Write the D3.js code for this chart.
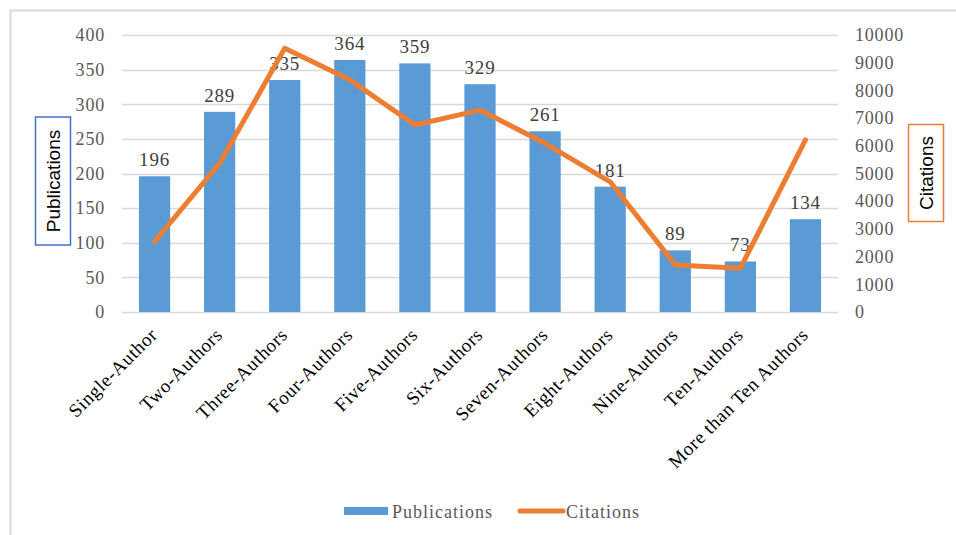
<!DOCTYPE html>
<html lang="en">
<head>
<meta charset="UTF-8">
<title>Publications and Citations</title>
<script src="https://cdnjs.cloudflare.com/ajax/libs/d3/7.8.5/d3.min.js"></script>
<style>
  body { margin: 0; background: #fff; }
</style>
</head>
<body>
<svg id="chart" width="956" height="535"></svg>
<script>
// data
var categories = ["Single-Author", "Two-Authors", "Three-Authors", "Four-Authors", "Five-Authors",
    "Six-Authors", "Seven-Authors", "Eight-Authors", "Nine-Authors", "Ten-Authors", "More than Ten Authors"];
var publications = [196, 289, 335, 364, 359, 329, 261, 181, 89, 73, 134];
var citations = [2540, 5370, 9520, 8380, 6750, 7290, 6090, 4700, 1700, 1580, 6210];
var leftTicks = [0, 50, 100, 150, 200, 250, 300, 350, 400];
var rightTicks = [0, 1000, 2000, 3000, 4000, 5000, 6000, 7000, 8000, 9000, 10000];

var svg = d3.select("#chart");
var plot = {left: 122, right: 838, top: 35, bottom: 312};
var serif = "'Liberation Serif', 'Times New Roman', serif";

// outer frame (only top and left edges fall inside the picture)
svg.append("rect")
    .attr("x", 10.5).attr("y", 10.5)
    .attr("width", 960).attr("height", 540)
    .attr("fill", "#fff")
    .attr("stroke", "#d9d9d9")
    .attr("stroke-width", 2);

var x = d3.scaleBand()
    .domain(categories)
    .range([plot.left, plot.right])
    .paddingInner(0.52)
    .paddingOuter(0.26);

var yLeft = d3.scaleLinear().domain([0, 400]).range([plot.bottom, plot.top]);
var yRight = d3.scaleLinear().domain([0, 10000]).range([plot.bottom, plot.top]);

// gridlines
svg.append("g")
    .selectAll("line")
    .data(leftTicks)
    .enter()
    .append("line")
    .attr("x1", plot.left).attr("x2", plot.right)
    .attr("y1", function(d) { return Math.round(yLeft(d)) + 0.5; })
    .attr("y2", function(d) { return Math.round(yLeft(d)) + 0.5; })
    .attr("stroke", "#d9d9d9")
    .attr("stroke-width", 1.3);

// left axis
var leftAxis = svg.append("g")
    .attr("transform", "translate(" + (plot.left - 17) + ",0)")
    .call(d3.axisLeft(yLeft).tickValues(leftTicks).tickSize(0).tickPadding(0));
leftAxis.select(".domain").remove();
leftAxis.selectAll("text")
    .attr("font-family", serif)
    .attr("font-size", 18)
    .attr("letter-spacing", 0.8)
    .attr("fill", "#595959");

// right axis
var rightAxis = svg.append("g")
    .attr("transform", "translate(" + (plot.right + 17) + ",0)")
    .call(d3.axisRight(yRight).tickValues(rightTicks).tickFormat(d3.format("d")).tickSize(0).tickPadding(0));
rightAxis.select(".domain").remove();
rightAxis.selectAll("text")
    .attr("font-family", serif)
    .attr("font-size", 18)
    .attr("letter-spacing", 0.8)
    .attr("fill", "#595959");

// bars
svg.append("g")
    .selectAll("rect")
    .data(publications)
    .enter()
    .append("rect")
    .attr("x", function(d, i) { return x(categories[i]); })
    .attr("y", function(d) { return yLeft(d); })
    .attr("width", x.bandwidth())
    .attr("height", function(d) { return yLeft(0) - yLeft(d); })
    .attr("fill", "#5b9bd5");

// bar labels
svg.append("g")
    .selectAll("text")
    .data(publications)
    .enter()
    .append("text")
    .attr("x", function(d, i) { return x(categories[i]) + x.bandwidth() / 2; })
    .attr("y", function(d) { return yLeft(d) - 10; })
    .attr("text-anchor", "middle")
    .attr("font-family", serif)
    .attr("font-size", 19)
    .attr("letter-spacing", 0.8)
    .attr("fill", "#404040")
    .text(function(d) { return d; });

// citations line
var line = d3.line()
    .x(function(d, i) { return x(categories[i]) + x.bandwidth() / 2; })
    .y(function(d) { return yRight(d); });

svg.append("path")
    .datum(citations)
    .attr("d", line)
    .attr("fill", "none")
    .attr("stroke", "#ed7d31")
    .attr("stroke-width", 5)
    .attr("stroke-linejoin", "round")
    .attr("stroke-linecap", "round");

// x labels
svg.append("g")
    .selectAll("text")
    .data(categories)
    .enter()
    .append("text")
    .attr("transform", function(d) {
        var cx = x(d) + x.bandwidth() / 2 + 4;
        return "translate(" + cx + "," + (plot.bottom + 24) + ") rotate(-45)";
    })
    .attr("text-anchor", "end")
    .attr("font-family", serif)
    .attr("font-size", 19)
    .attr("letter-spacing", 0.6)
    .attr("fill", "#000")
    .text(function(d) { return d; });

// axis titles with boxes
function boxedTitle(cx, cy, w, h, label, color) {
    var g = svg.append("g").attr("transform", "translate(" + cx + "," + cy + ")");
    g.append("rect")
        .attr("x", -w / 2).attr("y", -h / 2)
        .attr("width", w).attr("height", h)
        .attr("fill", "#fff")
        .attr("stroke", color)
        .attr("stroke-width", 1.5);
    g.append("text")
        .attr("transform", "rotate(-90)")
        .attr("text-anchor", "middle")
        .attr("dy", "0.35em")
        .attr("font-family", "'Liberation Sans', Arial, sans-serif")
        .attr("font-size", 19)
        .attr("fill", "#000")
        .text(label);
}
boxedTitle(53, 181, 35, 128, "Publications", "#4472c4");
boxedTitle(926, 173, 35, 97, "Citations", "#ed7d31");

// legend
var legend = svg.append("g");
legend.append("rect")
    .attr("x", 344).attr("y", 507)
    .attr("width", 44).attr("height", 8)
    .attr("fill", "#5b9bd5");
legend.append("text")
    .attr("x", 392).attr("y", 518)
    .attr("font-family", serif)
    .attr("font-size", 18)
    .attr("letter-spacing", 1)
    .attr("fill", "#595959")
    .text("Publications");
legend.append("line")
    .attr("x1", 520).attr("x2", 563)
    .attr("y1", 511).attr("y2", 511)
    .attr("stroke", "#ed7d31")
    .attr("stroke-width", 5)
    .attr("stroke-linecap", "round");
legend.append("text")
    .attr("x", 566).attr("y", 518)
    .attr("font-family", serif)
    .attr("font-size", 18)
    .attr("letter-spacing", 1)
    .attr("fill", "#595959")
    .text("Citations");
</script>
</body>
</html>
